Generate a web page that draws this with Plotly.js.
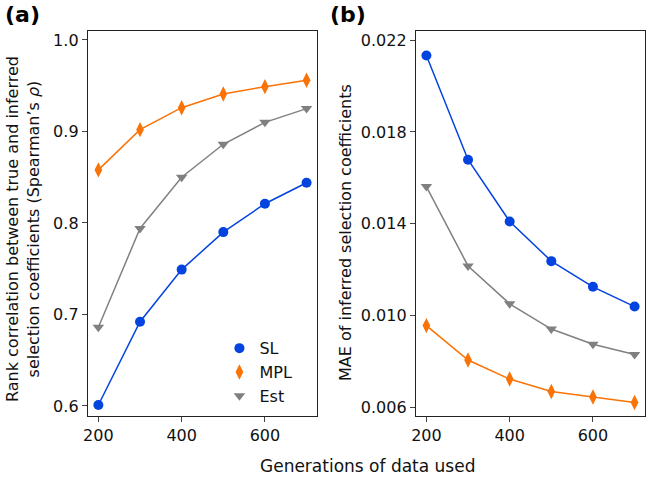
<!DOCTYPE html>
<html>
<head>
<meta charset="utf-8">
<script src="https://cdn.plot.ly/plotly-3.0.1.min.js"></script>
<style>html,body{margin:0;padding:0;background:#fff;}#chart{width:669px;height:478px;}</style>
</head>
<body>
<div id="chart"></div>
<script>
const generations = [200, 300, 400, 500, 600, 700];
const seriesNames = ['SL', 'MPL', 'Est'];
// Panel (a): rank correlation (Spearman's rho)
const rhoSL  = [0.601, 0.692, 0.749, 0.790, 0.821, 0.844];
const rhoMPL = [0.858, 0.902, 0.926, 0.941, 0.949, 0.956];
const rhoEst = [0.686, 0.794, 0.850, 0.886, 0.910, 0.925];
// Panel (b): MAE of inferred selection coefficients
const maeSL  = [0.02133, 0.01679, 0.01410, 0.01237, 0.01125, 0.01039];
const maeMPL = [0.00956, 0.00806, 0.00723, 0.00669, 0.00645, 0.00621];
const maeEst = [0.01562, 0.01216, 0.01051, 0.00941, 0.00875, 0.00830];
const xTicks = [200, 400, 600];
const yTicksA = [0.6, 0.7, 0.8, 0.9, 1.0];
const yTicksB = [0.006, 0.010, 0.014, 0.018, 0.022];

const colors = ['#0343df', '#f97306', '#808080'];
const symbols = ['circle', 'diamond-tall', 'triangle-down'];
const sizes = [10, 11, 10];
const FONT = 'DejaVu Sans, sans-serif';

function mk(y, i, ax) {
  return {
    x: generations, y: y, type: 'scatter', mode: 'lines+markers',
    name: seriesNames[i], showlegend: false,
    xaxis: ax === 1 ? 'x' : 'x2', yaxis: ax === 1 ? 'y' : 'y2',
    line: {color: colors[i], width: 1.5},
    marker: {color: colors[i], symbol: symbols[i], size: sizes[i], line: {width: 0}},
    cliponaxis: false
  };
}
function legendOnly(i) {
  return {
    x: [null], y: [null], type: 'scatter', mode: 'markers', name: seriesNames[i],
    showlegend: true, xaxis: 'x', yaxis: 'y',
    marker: {color: colors[i], symbol: symbols[i], size: sizes[i], line: {width: 0}}
  };
}

const data = [
  mk(rhoSL, 0, 1), mk(rhoMPL, 1, 1), mk(rhoEst, 2, 1),
  mk(maeSL, 0, 2), mk(maeMPL, 1, 2), mk(maeEst, 2, 2),
  legendOnly(0), legendOnly(1), legendOnly(2)
];

const axCommon = {
  showline: true, mirror: true, linecolor: '#222', linewidth: 1.2,
  ticks: 'outside', ticklen: 5, tickcolor: '#444', tickwidth: 1,
  showgrid: false, zeroline: false,
  tickfont: {family: FONT, size: 16, color: '#111'}
};

const layout = {
  width: 669, height: 478,
  margin: {l: 0, r: 0, t: 0, b: 0},
  paper_bgcolor: '#fff', plot_bgcolor: '#fff',
  font: {family: FONT, color: '#111'},
  xaxis: Object.assign({}, axCommon, {domain: [0.1315, 0.4738], range: [175, 725], tickvals: xTicks, anchor: 'y'}),
  yaxis: Object.assign({}, axCommon, {domain: [0.1297, 0.9351], range: [0.589, 1.0098], tickvals: yTicksA, tickformat: '.1f', anchor: 'x'}),
  xaxis2: Object.assign({}, axCommon, {domain: [0.6218, 0.9641], range: [175, 725], tickvals: xTicks, anchor: 'y2'}),
  yaxis2: Object.assign({}, axCommon, {domain: [0.1297, 0.9351], range: [0.00562, 0.0224], tickvals: yTicksB, tickformat: '.3f', anchor: 'x2'}),
  showlegend: true,
  legend: {x: 0.328, y: 0.307, xanchor: 'left', yanchor: 'top', bgcolor: 'rgba(0,0,0,0)',
           font: {family: FONT, size: 16, color: '#111'}, tracegroupgap: 0, itemwidth: 30},
  annotations: [
    {text: '<b>(a)</b>', x: 0.005, y: 1 - 14/478, xref: 'paper', yref: 'paper', xanchor: 'left', yanchor: 'middle', showarrow: false, font: {family: FONT, size: 22, color: '#000'}},
    {text: '<b>(b)</b>', x: 328/669, y: 1 - 14/478, xref: 'paper', yref: 'paper', xanchor: 'left', yanchor: 'middle', showarrow: false, font: {family: FONT, size: 22, color: '#000'}},
    {text: 'Generations of data used', x: 367/669, y: 1 - 466/478, xref: 'paper', yref: 'paper', xanchor: 'center', yanchor: 'middle', showarrow: false, font: {family: FONT, size: 17, color: '#111'}},
    {text: 'Rank correlation between true and inferred<br>selection coefficients (Spearman\u2019s <i>\u03c1</i>)', x: 23/669, y: 1 - 229/478, xref: 'paper', yref: 'paper', xanchor: 'center', yanchor: 'middle', textangle: -90, showarrow: false, font: {family: FONT, size: 16, color: '#111'}},
    {text: 'MAE of inferred selection coefficients', x: 345/669, y: 1 - 233/478, xref: 'paper', yref: 'paper', xanchor: 'center', yanchor: 'middle', textangle: -90, showarrow: false, font: {family: FONT, size: 16, color: '#111'}}
  ]
};

Plotly.newPlot('chart', data, layout, {displayModeBar: false, staticPlot: true});
</script>
</body>
</html>
